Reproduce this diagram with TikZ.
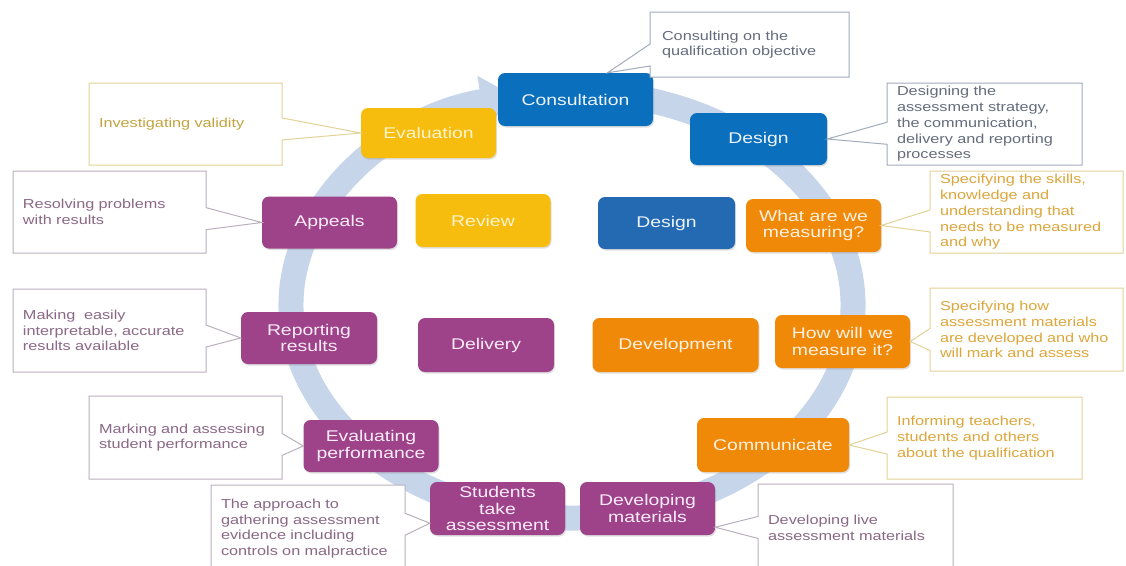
\documentclass[tikz,border=0pt]{standalone}
\usepackage{fontspec}
\setmainfont{Liberation Sans}[FakeStretch=1.25]
\usetikzlibrary{arrows.meta,shapes.callouts,shadows}

\definecolor{cyclecol}{RGB}{198,213,234}
\definecolor{stageblue}{RGB}{10,112,190}
\definecolor{stagesteel}{RGB}{36,106,178}
\definecolor{stagegold}{RGB}{246,188,14}
\definecolor{stageorange}{RGB}{240,136,8}
\definecolor{stageplum}{RGB}{158,66,138}
\definecolor{goldtext}{RGB}{255,244,205}
\definecolor{orangetext}{RGB}{255,242,226}
\definecolor{plumtext}{RGB}{250,236,248}
\definecolor{bluetext}{RGB}{236,243,251}
\definecolor{notesteel}{RGB}{162,172,188}
\definecolor{notesteeltext}{RGB}{100,108,124}
\definecolor{notegold}{RGB}{226,210,150}
\definecolor{notegoldtext}{RGB}{196,164,62}
\definecolor{noteorangetext}{RGB}{220,166,58}
\definecolor{noteplum}{RGB}{186,176,190}
\definecolor{noteplumtext}{RGB}{138,104,134}

\newcommand{\stagefont}{\fontsize{15.5}{16.7}\selectfont}
\newcommand{\notefont}{\fontsize{13}{15.7}\selectfont}

\tikzset{
  stage/.style={rounded corners=7pt, fill=#1, align=center, font=\stagefont,
    minimum width=135pt, minimum height=52pt, inner sep=2pt,
    drop shadow={opacity=0.25, shadow xshift=1pt, shadow yshift=-1.5pt}},
  bluestage/.style={stage=stageblue, text=bluetext},
  steelstage/.style={stage=stagesteel, text=bluetext},
  goldstage/.style={stage=stagegold, text=goldtext},
  orangestage/.style={stage=stageorange, text=orangetext},
  plumstage/.style={stage=stageplum, text=plumtext},
  note/.style={rectangle callout, fill=white, draw=#1, line width=1pt,
    align=left, font=\notefont, inner xsep=10pt, inner ysep=0pt,
    callout pointer width=22pt},
  bluenote/.style={note=notesteel, text=notesteeltext},
  goldnote/.style={note=notegold, text=notegoldtext},
  orangenote/.style={note=notegold, text=noteorangetext},
  plumnote/.style={note=noteplum, text=noteplumtext},
}

\begin{document}
\begin{tikzpicture}[x=1pt, y=-1pt]
  % page
  \fill[white] (0,0) rectangle (1126,565);
  \useasboundingbox (0,0) rectangle (1126,565);

  % the cycle arrow behind the stages
  \draw[cyclecol, line width=25pt, -{Triangle[width=50pt,length=34pt]}]
    (572,305) ++(-80:281 and 213)
    arc[start angle=-80, end angle=258.3, x radius=281, y radius=213];

  % stages
  \node[bluestage, minimum width=155pt, minimum height=53pt] (consult) at (575.5,99.5) {Consultation};
  \node[bluestage, minimum width=137pt] (designa) at (758.5,139) {Design};
  \node[goldstage, minimum height=50pt] (evaluation) at (428.5,133) {Evaluation};
  \node[plumstage] (appeals) at (329.5,222.5) {Appeals};
  \node[goldstage, minimum height=53pt] (review) at (483,220.5) {Review};
  \node[steelstage, minimum width=137pt] (designb) at (666.5,223) {Design};
  \node[orangestage, minimum height=53pt] (measuring) at (813.5,225.5) {What are we\\measuring?};
  \node[plumstage, minimum width=136pt] (reporting) at (309,338) {Reporting\\results};
  \node[plumstage, minimum width=136pt, minimum height=54pt] (delivery) at (486,345) {Delivery};
  \node[orangestage, minimum width=166pt, minimum height=54pt] (development) at (675.5,345) {Development};
  \node[orangestage, minimum height=53pt] (howmeasure) at (842.5,341.5) {How will we\\measure it?};
  \node[plumstage] (evalperf) at (371,446) {Evaluating\\performance};
  \node[orangestage, minimum width=152pt, minimum height=54pt] (communicate) at (773,445) {Communicate};
  \node[plumstage, minimum height=53pt] (students) at (497.5,508.5) {Students\\take\\assessment};
  \node[plumstage, minimum height=53pt] (devmat) at (647.5,508.5) {Developing\\materials};

  % notes pointing at their stages
  \node[bluenote, text width=175pt, inner xsep=12pt, minimum height=65pt,
    callout absolute pointer={([xshift=32pt]consult.north)}] (consultnote) at (749.5,44.5)
    {Consulting on the\\qualification objective};
  \node[bluenote, text width=175pt, minimum height=82pt,
    callout absolute pointer={(designa.east)}] (designnote) at (984.5,124)
    {Designing the\\assessment strategy,\\the communication,\\delivery and reporting\\processes};
  \node[goldnote, text width=173pt, minimum height=82pt,
    callout absolute pointer={(evaluation.west)}] (evalnote) at (185.5,124)
    {Investigating validity};
  \node[plumnote, text width=173pt, minimum height=82pt,
    callout absolute pointer={(appeals.west)}] (appealsnote) at (109.5,212)
    {Resolving problems\\with results};
  \node[orangenote, text width=173pt, minimum height=82pt,
    callout absolute pointer={(measuring.east)}] (measuringnote) at (1026.5,212)
    {Specifying the skills,\\knowledge and\\understanding that\\needs to be measured\\and why};
  \node[plumnote, text width=173pt, minimum height=83pt,
    callout absolute pointer={(reporting.west)}] (reportingnote) at (109.5,330.5)
    {Making\ \ easily\\interpretable, accurate\\results available};
  \node[orangenote, text width=173pt, minimum height=83pt,
    callout absolute pointer={(howmeasure.east)}] (howmeasurenote) at (1026.5,329.5)
    {Specifying how\\assessment materials\\are developed and who\\will mark and assess};
  \node[plumnote, text width=173pt, minimum height=83pt,
    callout absolute pointer={(evalperf.west)}] (evalperfnote) at (185.5,437.5)
    {Marking and assessing\\student performance};
  \node[orangenote, text width=175pt, minimum height=82pt,
    callout absolute pointer={(communicate.east)}] (communicatenote) at (984.5,438)
    {Informing teachers,\\students and others\\about the qualification};
  \node[plumnote, text width=174pt, minimum height=87pt,
    callout absolute pointer={([yshift=12pt]students.south west)}] (studentsnote) at (308,528.5)
    {The approach to\\gathering assessment\\evidence including\\controls on malpractice};
  \node[plumnote, text width=175pt, minimum height=88pt,
    callout absolute pointer={([yshift=8pt]devmat.south east)}] (devmatnote) at (855.5,528)
    {Developing live\\assessment materials};
\end{tikzpicture}
\end{document}
